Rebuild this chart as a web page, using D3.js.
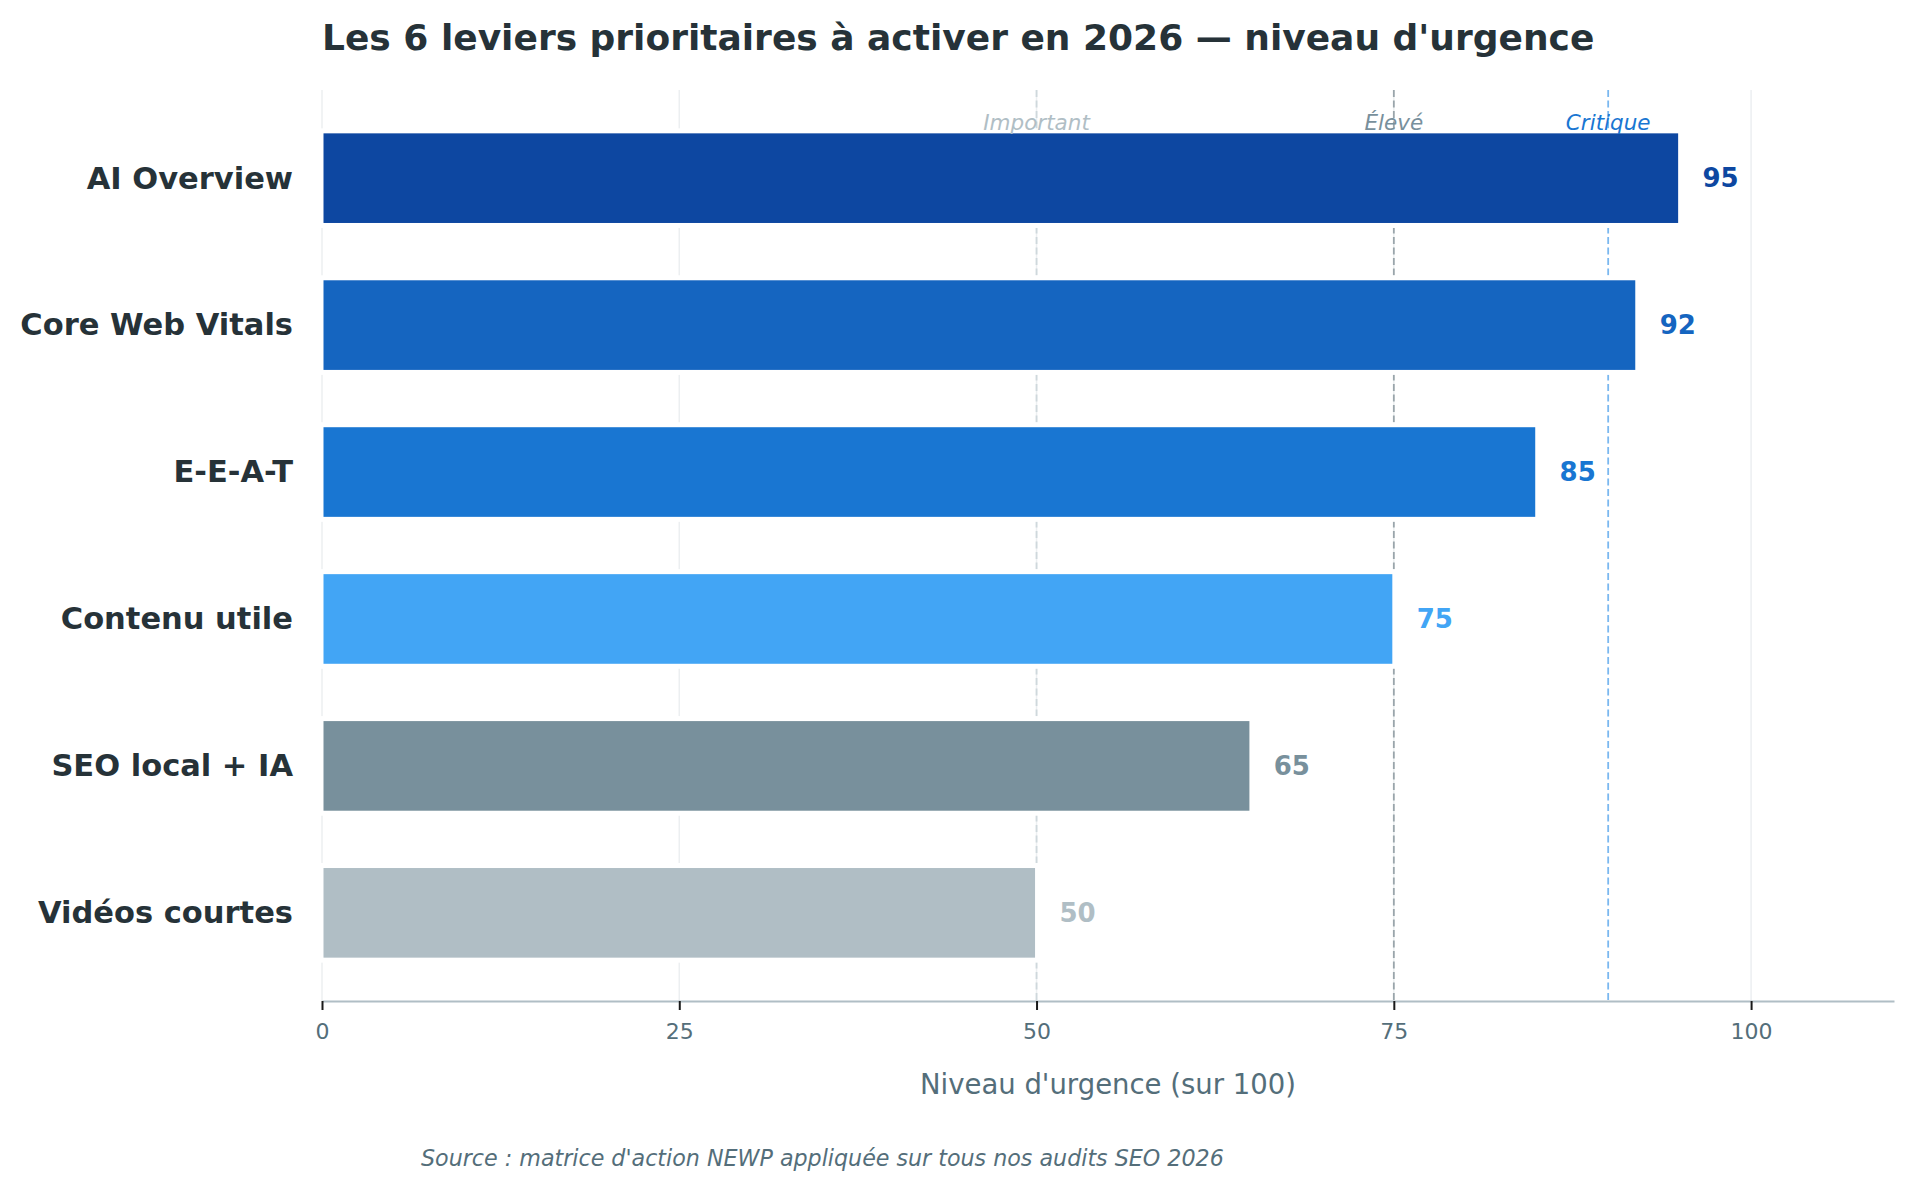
<!DOCTYPE html>
<html>
<head>
<meta charset="UTF-8">
<style>
body { margin: 0; background: #fff; }
svg { display: block; font-family: "DejaVu Sans", sans-serif; }
.grid line { stroke: #eceff1; stroke-width: 1.5; }
.x.axis .domain { stroke: #b0bec5; stroke-width: 2; }
.x.axis .tick line { stroke: #1a1a1a; stroke-width: 2; }
.x.axis .tick text { fill: #546e7a; font-size: 22px; font-family: "DejaVu Sans", sans-serif; }
</style>
<script src="https://cdn.jsdelivr.net/npm/d3@7"></script>
</head>
<body>
<div id="chart"></div>
<script>
// data
var categories = ["AI Overview", "Core Web Vitals", "E-E-A-T", "Contenu utile", "SEO local + IA", "Vidéos courtes"];
var urgency = [95, 92, 85, 75, 65, 50];
var barColors = ["#0d47a1", "#1565c0", "#1976d2", "#42a5f5", "#78909c", "#b0bec5"];
var tickValues = [0, 25, 50, 75, 100];
var thresholdValues = [50, 75, 90];
var thresholdLabels = ["Important", "Élevé", "Critique"];
var thresholdLineColors = ["#cfd8dc", "#9aa5ab", "#7ab8f0"];
var thresholdTextColors = ["#b0bec5", "#78909c", "#1976d2"];

var W = 1913, H = 1190;
var plot = {left: 322, right: 1894, top: 90, bottom: 1001};

var svg = d3.select("#chart").append("svg")
    .attr("width", W)
    .attr("height", H);

var x = d3.scaleLinear().domain([0, 110]).range([plot.left, plot.right]);
var y = d3.scaleLinear().domain([-0.6, 5.6]).range([plot.top, plot.bottom]);
var barH = y(0.61) - y(0);

// vertical grid
svg.append("g").attr("class", "grid")
  .selectAll("line")
  .data(tickValues)
  .enter().append("line")
    .attr("x1", d => x(d)).attr("x2", d => x(d))
    .attr("y1", plot.top).attr("y2", plot.bottom);

// dashed threshold lines
svg.append("g")
  .selectAll("line")
  .data(thresholdValues)
  .enter().append("line")
    .attr("x1", d => x(d)).attr("x2", d => x(d))
    .attr("y1", plot.top).attr("y2", plot.bottom)
    .attr("stroke", (d, i) => thresholdLineColors[i])
    .attr("stroke-width", 1.8)
    .attr("stroke-dasharray", "7,3.5");

// bars, with a white halo drawn under the fill
svg.append("g")
  .selectAll("rect")
  .data(urgency)
  .enter().append("rect")
    .attr("x", x(0) + 1.5)
    .attr("y", (d, i) => y(i) - barH / 2)
    .attr("width", d => x(d) - x(0) - 3)
    .attr("height", barH)
    .attr("fill", (d, i) => barColors[i])
    .attr("stroke", "#fff")
    .attr("stroke-width", 10)
    .attr("paint-order", "stroke");

// value labels
svg.append("g")
  .selectAll("text")
  .data(urgency)
  .enter().append("text")
    .attr("x", d => x(d + 1.6))
    .attr("y", (d, i) => y(i))
    .attr("dy", "0.35em")
    .attr("fill", (d, i) => barColors[i])
    .attr("font-size", 26)
    .attr("font-weight", "bold")
    .text(d => d);

// category labels
svg.append("g")
  .selectAll("text")
  .data(categories)
  .enter().append("text")
    .attr("x", plot.left - 29)
    .attr("y", (d, i) => y(i))
    .attr("dy", "0.34em")
    .attr("text-anchor", "end")
    .attr("fill", "#263238")
    .attr("font-size", 30.5)
    .attr("font-weight", "bold")
    .text(d => d);

// threshold labels
svg.append("g")
  .selectAll("text")
  .data(thresholdValues)
  .enter().append("text")
    .attr("x", d => x(d))
    .attr("y", 130)
    .attr("text-anchor", "middle")
    .attr("fill", (d, i) => thresholdTextColors[i])
    .attr("font-size", 21.5)
    .attr("font-style", "italic")
    .text((d, i) => thresholdLabels[i]);

// x axis
svg.append("g")
    .attr("class", "x axis")
    .attr("transform", "translate(0," + plot.bottom + ")")
    .call(d3.axisBottom(x).tickValues(tickValues).tickSize(9).tickSizeOuter(0).tickPadding(13));

svg.append("text")
    .attr("x", (plot.left + plot.right) / 2)
    .attr("y", 1094)
    .attr("text-anchor", "middle")
    .attr("fill", "#546e7a")
    .attr("font-size", 27.5)
    .text("Niveau d'urgence (sur 100)");

// title
svg.append("text")
    .attr("x", plot.left)
    .attr("y", 50)
    .attr("fill", "#263238")
    .attr("font-size", 36)
    .attr("font-weight", "bold")
    .text("Les 6 leviers prioritaires à activer en 2026 — niveau d'urgence");

// source
svg.append("text")
    .attr("x", 421)
    .attr("y", 1166)
    .attr("fill", "#546e7a")
    .attr("font-size", 22.2)
    .attr("font-style", "italic")
    .text("Source : matrice d'action NEWP appliquée sur tous nos audits SEO 2026");
</script>
</body>
</html>
